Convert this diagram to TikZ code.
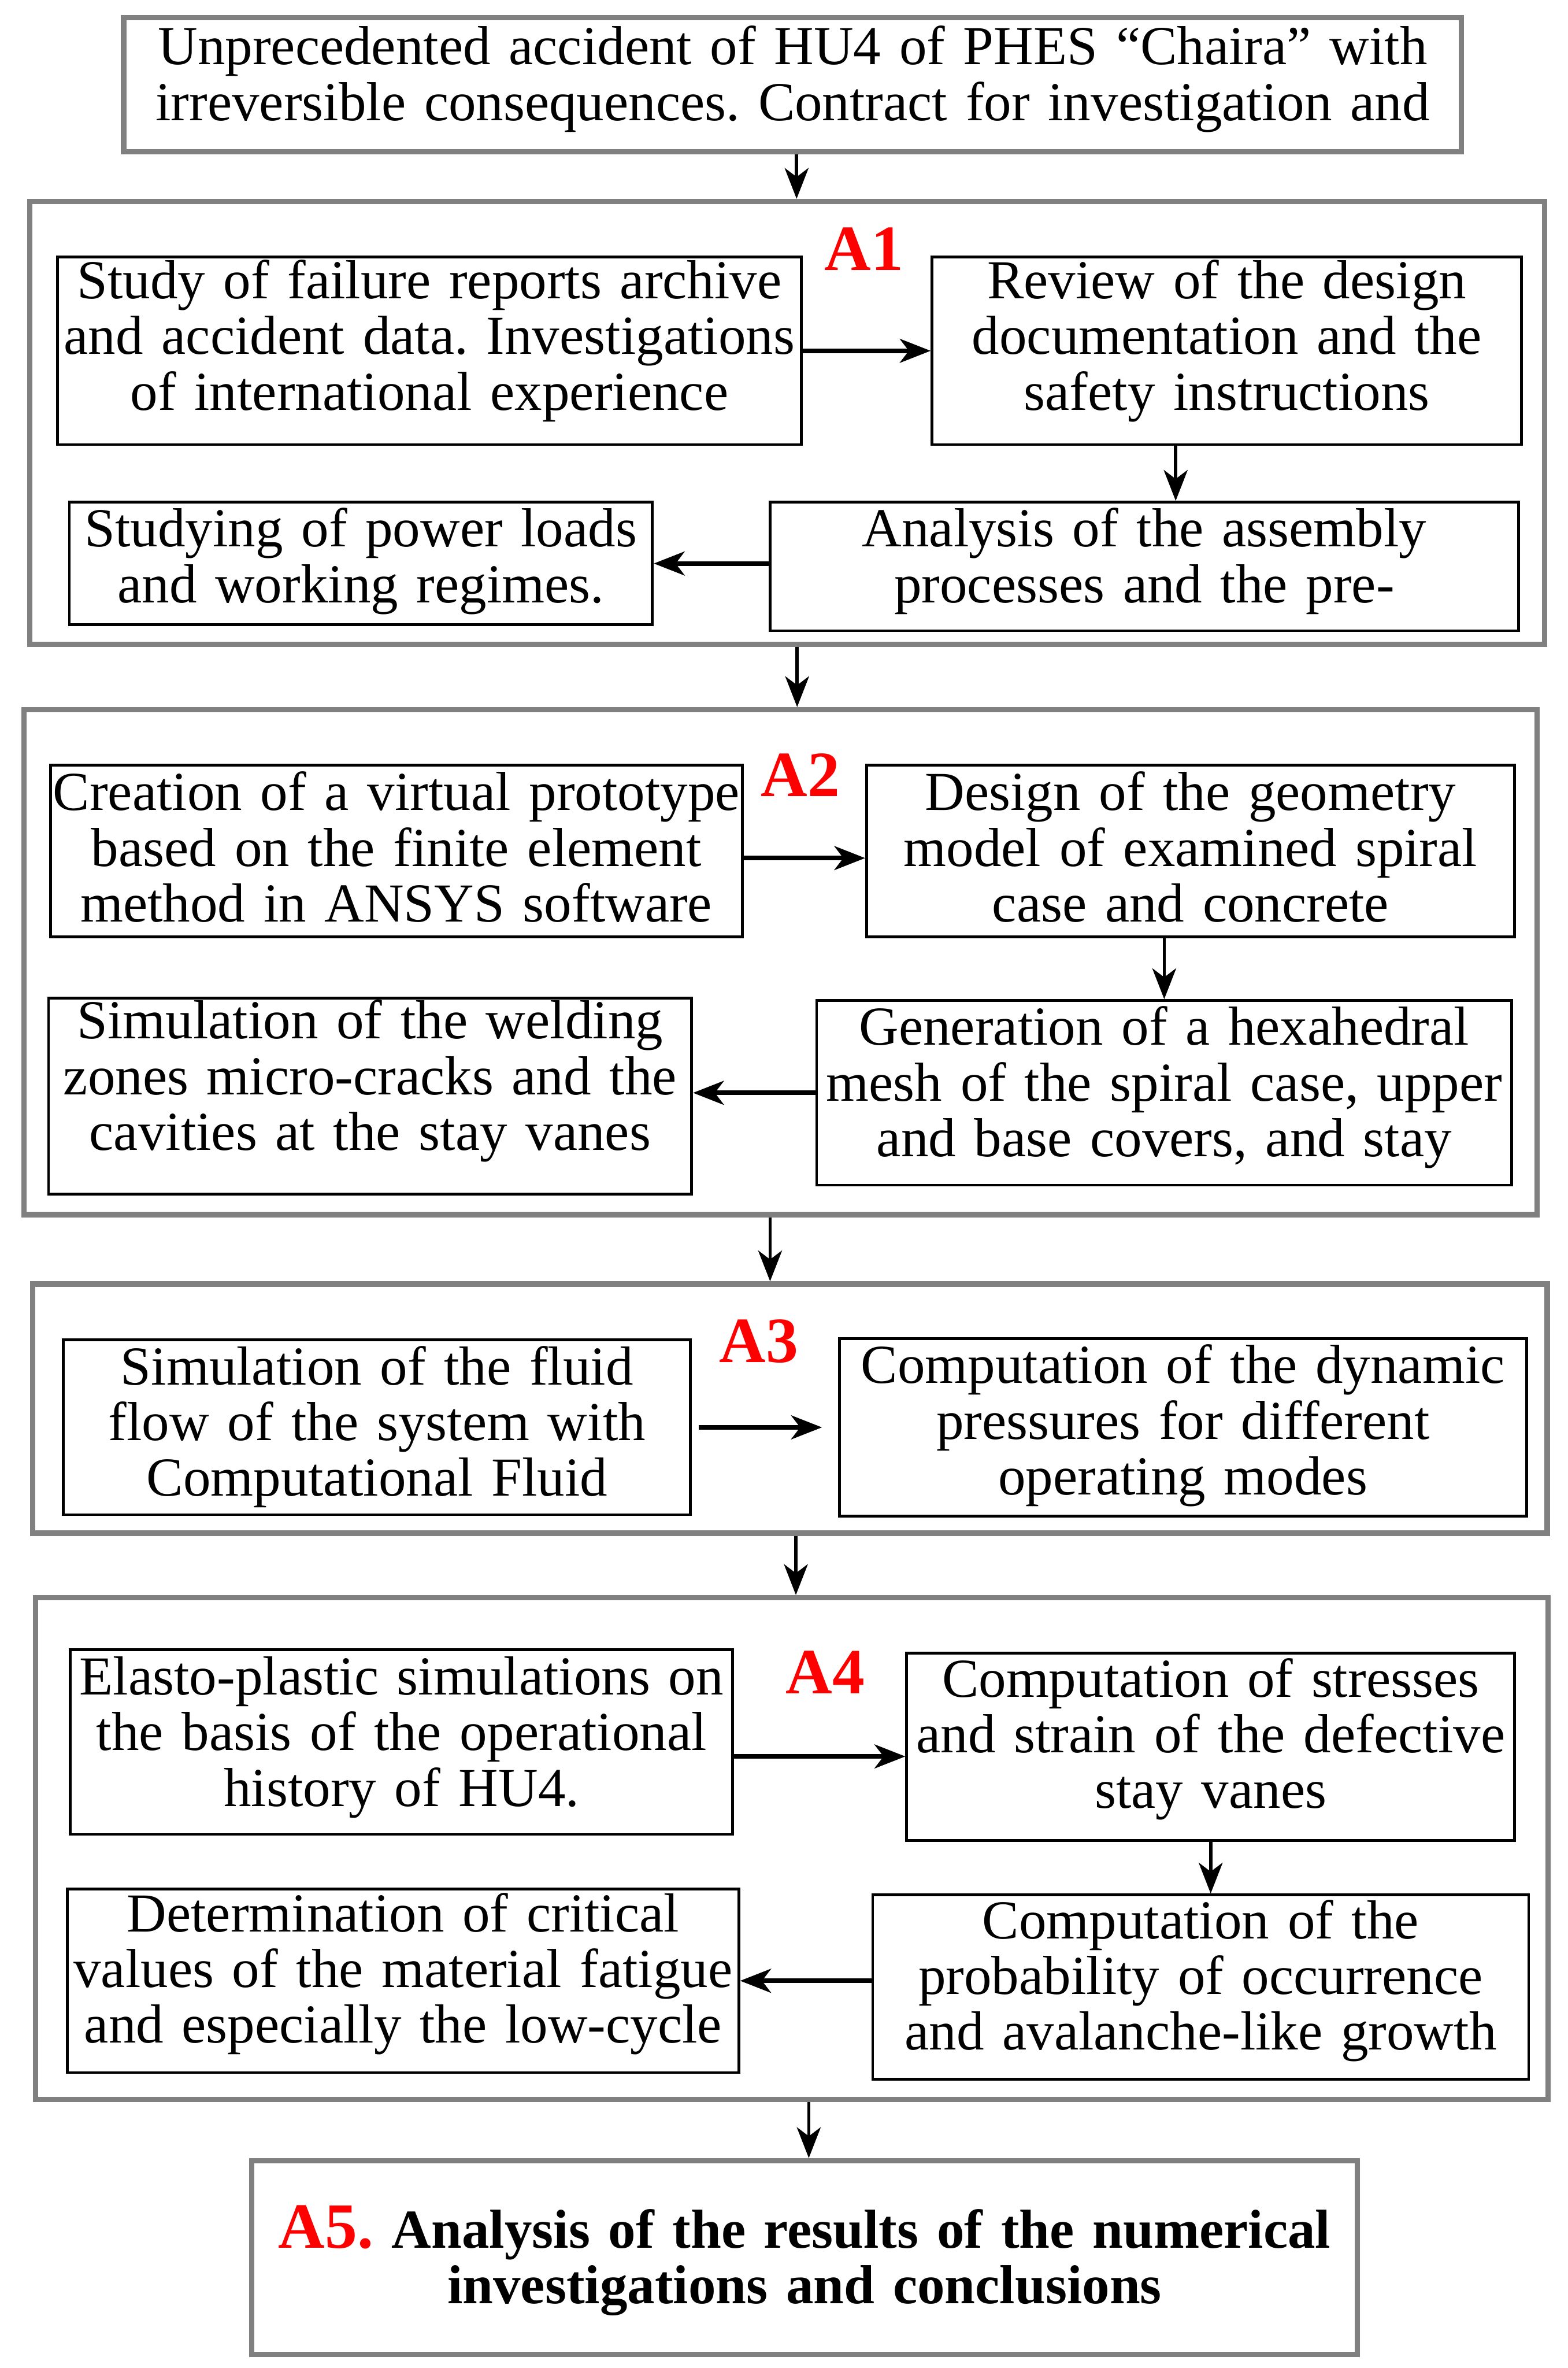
\documentclass[tikz,border=0pt]{standalone}
\usepackage{fontspec}
\setmainfont{Liberation Serif}[WordSpace=0.85]
\usepackage{xcolor}
\usepackage{tikz}
\usetikzlibrary{positioning, arrows.meta, calc}
\definecolor{framegray}{RGB}{128,128,128}
\frenchspacing

\begin{document}
\begin{tikzpicture}[
        stage/.style={draw=framegray, line width=3.1pt, rectangle, inner sep=0pt},
        box/.style={draw, rectangle, line width=1.6pt, inner sep=0pt, align=center, anchor=north west, font=\fontsize{31.5pt}{31.9pt}\selectfont},
        graybox/.style={box, draw=framegray, line width=3.1pt},
        stagelabel/.style={text=red, anchor=base, font=\bfseries\fontsize{37pt}{37pt}\selectfont},
        arr/.style={-{Stealth[length=0.62cm, width=0.48cm, inset=0.18cm]}, line width=1.9pt},
        harr/.style={arr, line width=2.7pt}
    ]
    \fill[white] (0,0) rectangle (31.6,-47.71);

    % frames
    \node[stage, minimum width=30.53cm, minimum height=8.92cm] (a1) at (15.865,-8.52) {};
    \node[stage, minimum width=30.50cm, minimum height=10.17cm] (a2) at (15.73,-19.385) {};
    \node[stage, minimum width=30.52cm, minimum height=5.02cm] (a3) at (15.92,-28.38) {};
    \node[stage, minimum width=30.48cm, minimum height=10.11cm] (a4) at (15.96,-37.245) {};

    \node[graybox, text width=26.96cm, text height=0.95cm, text depth=1.75cm] (start) at (2.44,-0.30)
        {Unprecedented accident of HU4 of PHES “Chaira” with\\irreversible consequences. Contract for investigation and};

    % A1
    \node[stagelabel] (lblone) at (17.41,-5.45) {A1};
    \node[box, text width=14.99cm, text height=0.84cm, text depth=2.94cm] (study) at (1.13,-5.15)
        {Study of failure reports archive\\and accident data. Investigations\\of international experience};
    \node[box, text width=11.88cm, text height=0.84cm, text depth=2.94cm, right=2.58cm of study] (review)
        {Review of the design\\documentation and the\\safety instructions};
    \node[box, text width=15.09cm, text height=0.90cm, text depth=1.69cm] (analysis) at (15.49,-10.09)
        {Analysis of the assembly\\processes and the pre-};
    \node[box, text width=11.75cm, text height=0.90cm, text depth=1.57cm] (loads) at (1.37,-10.09)
        {Studying of power loads\\and working regimes.};

    % A2
    \node[stagelabel] (lbltwo) at (16.13,-16.04) {A2};
    \node[box, text width=13.94cm, text height=0.91cm, text depth=2.55cm] (proto) at (0.99,-15.39)
        {Creation of a virtual prototype\\based on the finite element\\method in ANSYS software};
    \node[box, text width=13.06cm, text height=0.91cm, text depth=2.55cm, right=2.45cm of proto] (geom)
        {Design of the geometry\\model of examined spiral\\case and concrete};
    \node[box, text width=14.01cm, text height=0.90cm, text depth=2.82cm] (mesh) at (16.43,-20.13)
        {Generation of a hexahedral\\mesh of the spiral case, upper\\and base covers, and stay};
    \node[box, text width=12.96cm, text height=0.82cm, text depth=3.13cm] (weld) at (0.95,-20.08)
        {Simulation of the welding\\zones micro-cracks and the\\cavities at the stay vanes};

    % A3
    \node[stagelabel] (lblthree) at (15.29,-27.45) {A3};
    \node[box, text width=12.64cm, text height=0.90cm, text depth=2.62cm] (fluid) at (1.25,-26.97)
        {Simulation of the fluid\\flow of the system with\\Computational Fluid};
    \node[box, text width=13.85cm, text height=0.90cm, text depth=2.67cm, right=2.94cm of fluid] (press)
        {Computation of the dynamic\\pressures for different\\operating modes};

    % A4
    \node[stagelabel] (lblfour) at (16.635,-34.12) {A4};
    \node[box, text width=13.35cm, text height=0.91cm, text depth=2.81cm] (elasto) at (1.39,-33.21)
        {Elasto-plastic simulations on\\the basis of the operational\\history of HU4.};
    \node[box, text width=12.25cm, text height=0.88cm, text depth=2.89cm, right=3.45cm of elasto, yshift=-0.095cm] (stress)
        {Computation of stresses\\and strain of the defective\\stay vanes};
    \node[box, text width=13.22cm, text height=0.88cm, text depth=2.83cm] (prob) at (17.56,-38.15)
        {Computation of the\\probability of occurrence\\and avalanche-like growth};
    \node[box, text width=13.53cm, text height=0.86cm, text depth=2.84cm] (fatigue) at (1.33,-38.03)
        {Determination of critical\\values of the material fatigue\\and especially the low-cycle};

    % A5
    \node[graybox, text width=22.28cm, text height=1.76cm, text depth=2.14cm, font=\bfseries\fontsize{31.5pt}{31.9pt}\selectfont] (result) at (5.02,-43.48)
        {{\color{red}\fontsize{37pt}{37pt}\selectfont A5.} Analysis of the results of the numerical\\investigations and conclusions};

    % between stages
    \draw[arr] ([xshift=0.08cm]start.south) -- ([xshift=0.08cm]start.south |- a1.north);
    \draw[arr] ([xshift=0.20cm]a1.south) -- ([xshift=0.20cm]a1.south |- a2.north);
    \draw[arr] ([xshift=-0.21cm]a2.south) -- ([xshift=-0.21cm]a2.south |- a3.north);
    \draw[arr] ([xshift=0.12cm]a3.south) -- ([xshift=0.12cm]a3.south |- a4.north);
    \draw[arr] ([xshift=0.34cm]a4.south) -- ([xshift=0.34cm]a4.south |- result.north);

    % inside stages
    \draw[harr] (study.east) -- (review.west);
    \draw[arr] ([xshift=-1.03cm]review.south) -- ([xshift=-1.03cm]review.south |- analysis.north);
    \draw[harr] (analysis.west |- loads.east) -- (loads.east);

    \draw[harr] ([yshift=-0.14cm]proto.east) -- ([yshift=-0.14cm]geom.west);
    \draw[arr] (geom.south -| mesh.north) -- (mesh.north);
    \draw[harr] (mesh.west) -- (mesh.west -| weld.east);

    \draw[harr, shorten <=0.14cm, shorten >=0.32cm] (fluid.east) -- (fluid.east -| press.west);

    \draw[harr] ([yshift=-0.29cm]elasto.east) -- ([yshift=-0.29cm]elasto.east -| stress.west);
    \draw[arr] (stress.south) -- (stress.south |- prob.north);
    \draw[harr] (prob.west |- fatigue.east) -- (fatigue.east);

\end{tikzpicture}
\end{document}
